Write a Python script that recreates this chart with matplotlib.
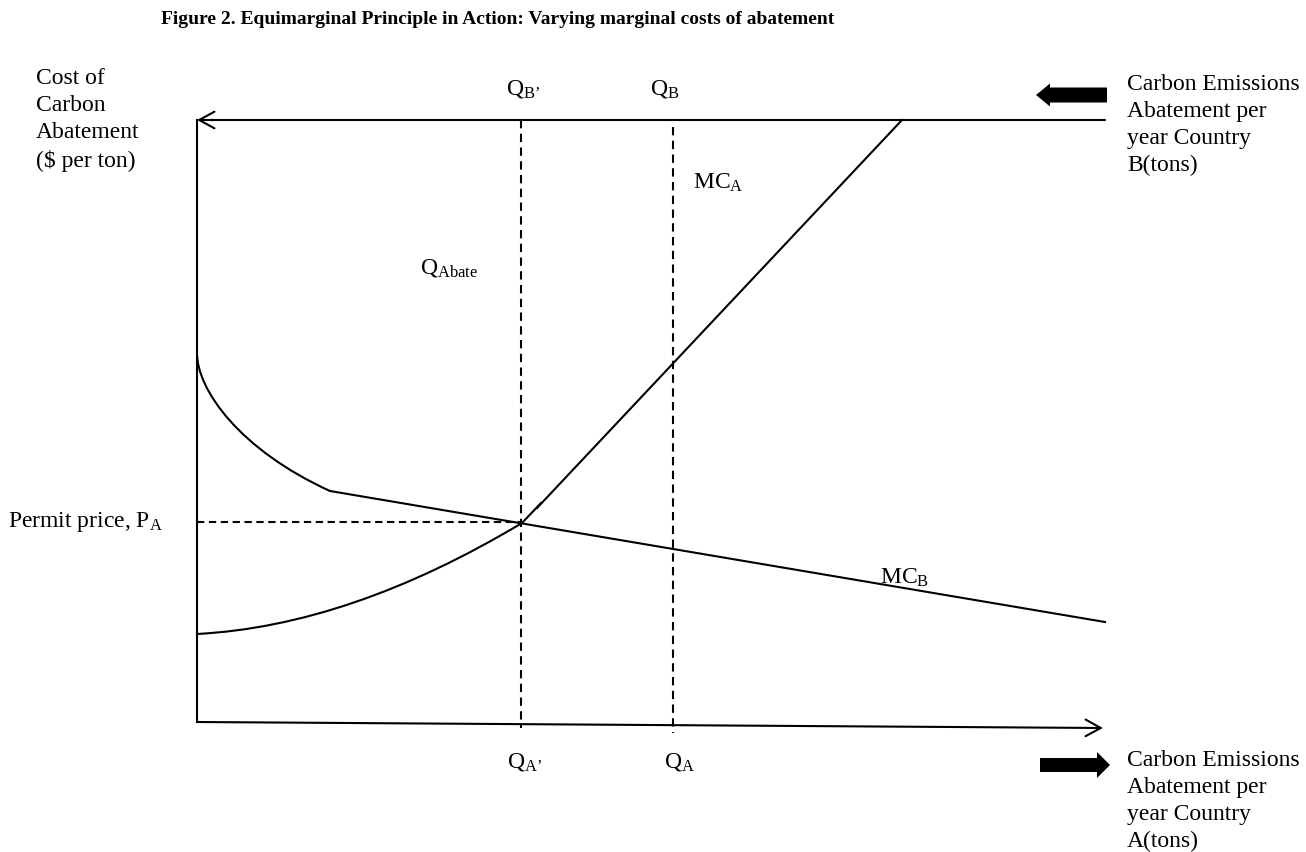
import matplotlib
matplotlib.use("Agg")
import matplotlib.pyplot as plt
from matplotlib.path import Path
from matplotlib.patches import PathPatch

plt.rcParams['font.family'] = ['Liberation Serif', 'DejaVu Serif']
plt.rcParams['mathtext.fontset'] = 'custom'
plt.rcParams['mathtext.rm'] = 'Liberation Serif'
plt.rcParams['mathtext.it'] = 'Liberation Serif:italic'

# ---------------------------------------------------------------------------
# Diagram geometry (page units, y grows downwards)
# ---------------------------------------------------------------------------
axis_x = 197                 # vertical (price) axis
top_y = 120                  # country B quantity axis (runs right -> left)
top_end_x = 1105
bottom_x = [197, 1103]       # country A quantity axis
bottom_y = [722, 728]
axis_top = 120
axis_bottom = 722

q_prime_x = 521              # Q_A' / Q_B'
q_x = 673                    # Q_A / Q_B
q_prime_span = [120, 728]
q_span = [127, 733]
permit_price_y = 522

# MC_B: curved start then a straight, gently falling line
mcb_curve_x = [197, 197, 240, 330]
mcb_curve_y = [353, 390, 450, 491]
mcb_line_x = [330, 1105]
mcb_line_y = [491, 622]

# MC_A: convex curve up to the permit price, then straight up to the top axis
mca_curve_x = [197, 350, 522]
mca_curve_y = [634, 626, 523]
mca_join_x = [522, 541]
mca_join_y = [523, 503]
mca_line_x = [537, 902]
mca_line_y = [508, 120]

axis_label = "Cost of\nCarbon\nAbatement\n($ per ton)"
label_b = "Carbon Emissions\nAbatement per\nyear Country\nB(tons)"
label_a = "Carbon Emissions\nAbatement per\nyear Country\nA(tons)"
title = "Figure 2. Equimarginal Principle in Action: Varying marginal costs of abatement"

fig = plt.figure(figsize=(13.06, 8.52), dpi=100)
ax = fig.add_axes([0, 0, 1, 1])
ax.set_xlim(0, 1306)
ax.set_ylim(852, 0)
ax.axis('off')

lw = 1.5
fs = 17
ls = 1.38

# axes
ax.plot([axis_x, axis_x], [axis_top, axis_bottom], color='black', lw=lw)
ax.annotate('', xy=(axis_x, top_y), xytext=(top_end_x, top_y),
            arrowprops=dict(arrowstyle='->,head_length=1.1,head_width=0.6',
                            lw=lw, color='black', shrinkA=0, shrinkB=0))
ax.annotate('', xy=(bottom_x[1], bottom_y[1]), xytext=(bottom_x[0], bottom_y[0]),
            arrowprops=dict(arrowstyle='->,head_length=1.1,head_width=0.6',
                            lw=lw, color='black', shrinkA=0, shrinkB=0))

# dashed guides
dash = (4, 2.6)
ax.plot([q_prime_x, q_prime_x], q_prime_span, color='black', lw=lw, dashes=dash)
ax.plot([q_x, q_x], q_span, color='black', lw=lw, dashes=dash)
ax.plot([axis_x, q_prime_x], [permit_price_y, permit_price_y], color='black',
        lw=lw, dashes=(3.5, 2.2))

# MC_B
path_b = Path(list(zip(mcb_curve_x, mcb_curve_y)),
              [Path.MOVETO, Path.CURVE4, Path.CURVE4, Path.CURVE4])
ax.add_patch(PathPatch(path_b, fill=False, lw=lw, edgecolor='black'))
ax.plot(mcb_line_x, mcb_line_y, color='black', lw=lw)

# MC_A
path_a = Path(list(zip(mca_curve_x, mca_curve_y)),
              [Path.MOVETO, Path.CURVE3, Path.CURVE3])
ax.add_patch(PathPatch(path_a, fill=False, lw=lw, edgecolor='black'))
ax.plot(mca_join_x, mca_join_y, color='black', lw=lw)
ax.plot(mca_line_x, mca_line_y, color='black', lw=lw)

# thick direction arrows
ax.arrow(1107, 95, -57, 0, width=15, head_width=23, head_length=14,
         length_includes_head=False, color='black', lw=0)
ax.arrow(1040, 765, 57, 0, width=14, head_width=26, head_length=13,
         length_includes_head=False, color='black', lw=0)

# labels
ax.text(498, 20, title, fontsize=14, fontweight='bold', ha='center', va='center')
ax.text(36, 68, axis_label, fontsize=fs, ha='left', va='top', linespacing=ls)
ax.text(1127, 74, label_b, fontsize=fs, ha='left', va='top', linespacing=ls)
ax.text(1127, 750, label_a, fontsize=fs, ha='left', va='top', linespacing=ls)

ax.text(506, 89, r'Q$_{\mathrm{B’}}$', fontsize=fs, ha='left', va='center')
ax.text(650, 89, r'Q$_{\mathrm{B}}$', fontsize=fs, ha='left', va='center')
ax.text(507, 762, r'Q$_{\mathrm{A’}}$', fontsize=fs, ha='left', va='center')
ax.text(664, 762, r'Q$_{\mathrm{A}}$', fontsize=fs, ha='left', va='center')
ax.text(420, 268, r'Q$_{\mathrm{Abate}}$', fontsize=fs, ha='left', va='center')
ax.text(693, 183, r'MC$_{\mathrm{A}}$', fontsize=fs, ha='left', va='center')
ax.text(880, 578, r'MC$_{\mathrm{B}}$', fontsize=fs, ha='left', va='center')
ax.text(8, 522, r'Permit price, P$_{\mathrm{A}}$', fontsize=fs, ha='left', va='center')

fig.savefig('out.png', dpi=100, facecolor='white')
